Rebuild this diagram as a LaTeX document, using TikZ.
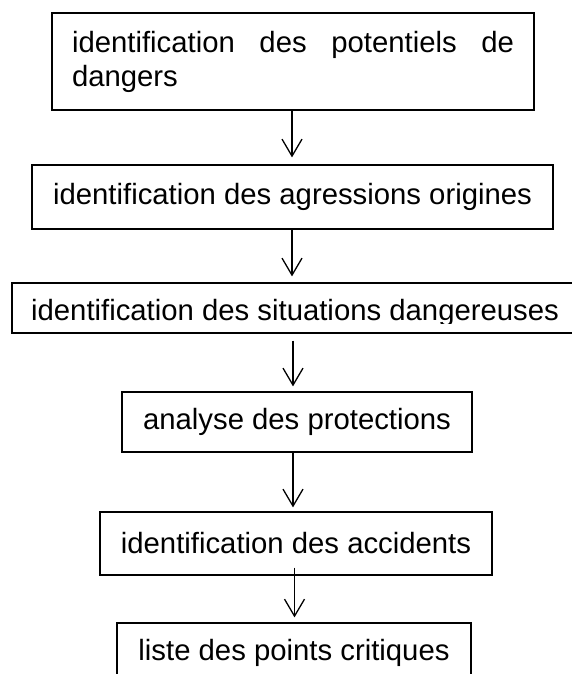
\documentclass[tikz,border=0pt]{standalone}
\usepackage{fontspec}
\setmainfont{Liberation Sans}
\usetikzlibrary{arrows.meta}
\begin{document}
\begin{tikzpicture}[x=1pt,y=-1pt,
  box/.style={draw=black, line width=1.2pt, inner sep=0pt, font=\fontsize{29.3}{34}\selectfont},
  lbl/.style={inner sep=0pt, font=\fontsize{29.3}{34}\selectfont},
  arr/.style={draw=black, line width=1.3pt, -{Straight Barb[length=17pt,width=20pt]}}]
\useasboundingbox (0,0) rectangle (572,674);
\fill[white] (0,0) rectangle (572,674);

\node[box, minimum width=482pt, minimum height=97pt] (b1) at (293,61.5)
  {\parbox{442pt}{\tolerance=10000\hyphenpenalty=10000 identification des potentiels de dangers}};
\node[box, minimum width=521pt, minimum height=64pt] (b2) at (292.5,197) {identification des agressions origines};
\node[box, minimum width=563pt, minimum height=50pt] (b3) at (293.5,308) {};
\begin{scope}
  \clip ([yshift=-1pt]b3.north west) rectangle ([yshift=10pt]b3.south east);
  \node[lbl, anchor=base] (t3) at (295,320) {identification des situations dangereuses};
\end{scope}
\node[box, minimum width=350pt, minimum height=60pt] (b4) at (297,422) {analyse des protections};
\node[box, minimum width=392pt, minimum height=63pt] (b5) at (296,543.5) {identification des accidents};
\node[box, minimum width=354pt, minimum height=60pt] (b6) at (294,653) {liste des points critiques};

\coordinate (x1) at (292,0);
\coordinate (x2) at (292,0);
\coordinate (x3) at (293,0);
\coordinate (x4) at (293,0);
\coordinate (x5) at (294.5,0);
\draw[arr, shorten >=7pt] (b1.south -| x1) -- (b2.north -| x1);
\draw[arr, shorten >=6pt] (b2.south -| x2) -- (b3.north -| x2);
\draw[arr, shorten <=7pt, shorten >=5pt] (b3.south -| x3) -- (b4.north -| x3);
\draw[arr, shorten >=4pt] (b4.south -| x4) -- (b5.north -| x4);
\draw[arr, shorten <=-8pt, shorten >=5pt] (b5.south -| x5) -- (b6.north -| x5);
\end{tikzpicture}
\end{document}
